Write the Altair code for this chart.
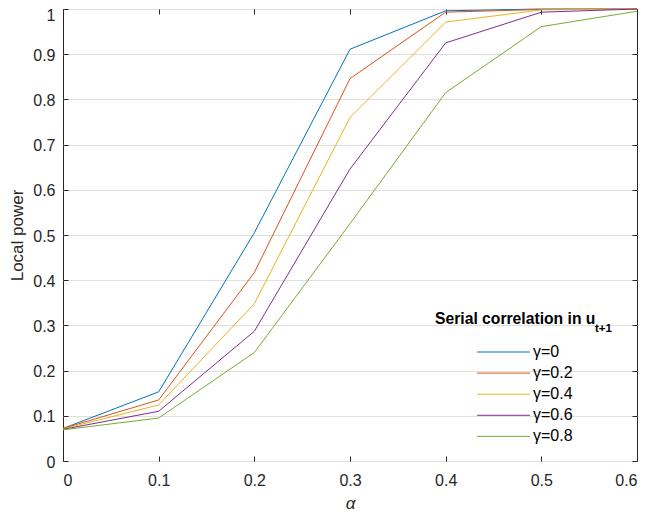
import altair as alt
import pandas as pd

FONT = "Liberation Sans"
TEXT = "#262626"

alpha = [0, 0.1, 0.2, 0.3, 0.4, 0.5, 0.6]
series = ["γ=0", "γ=0.2", "γ=0.4", "γ=0.6", "γ=0.8"]
power_g00 = [0.072, 0.153, 0.505, 0.911, 0.996, 1.000, 1.000]
power_g02 = [0.072, 0.135, 0.417, 0.846, 0.993, 0.999, 1.000]
power_g04 = [0.071, 0.124, 0.348, 0.760, 0.971, 0.998, 1.000]
power_g06 = [0.070, 0.110, 0.287, 0.646, 0.925, 0.993, 1.000]
power_g08 = [0.069, 0.095, 0.240, 0.525, 0.815, 0.961, 0.995]
colors = ["#0072BD", "#D95319", "#EDB120", "#7E2F8E", "#77AC30"]
x_ticks = [0, 0.1, 0.2, 0.3, 0.4, 0.5, 0.6]
y_ticks = [0, 0.1, 0.2, 0.3, 0.4, 0.5, 0.6, 0.7, 0.8, 0.9, 1.0]
legend_title = "Serial correlation in u"
legend_sub = "t+1"

all_series = [power_g00, power_g02, power_g04, power_g06, power_g08]
rows = []
for name, vals in zip(series, all_series):
    for a, p in zip(alpha, vals):
        rows.append({"alpha": a, "power": p, "series": name})
df = pd.DataFrame(rows)

xs = alt.Scale(domain=[0, 0.6], nice=False, zero=False)
ys = alt.Scale(domain=[0, 1], nice=False)

grid = alt.Chart(df).mark_line(opacity=0).encode(
    x=alt.X("alpha:Q", scale=xs, axis=None),
    y=alt.Y("power:Q", scale=ys, axis=alt.Axis(
        orient="left", values=y_ticks, grid=True, gridColor="#dfdfdf",
        gridWidth=1, ticks=False, labels=False, domain=False, title=None)),
    detail="series:N",
)

lines = alt.Chart(df).mark_line(strokeWidth=1).encode(
    x=alt.X("alpha:Q", scale=xs, axis=alt.Axis(
        orient="bottom", title="α", values=x_ticks, format="~g",
        offset=-5, tickSize=5, domain=False, grid=False,
        labelPadding=11, titlePadding=7, titleFontStyle="italic")),
    y=alt.Y("power:Q", scale=ys, axis=alt.Axis(
        orient="left", title="Local power", values=y_ticks, format="~g",
        offset=-5, tickSize=5, domain=False, grid=False,
        labelPadding=8, titlePadding=6,
        labelOffset={"condition": {"test": "datum.value >= 1", "value": 6.5}, "value": 1})),
    color=alt.Color("series:N", sort=series,
                    scale=alt.Scale(domain=series, range=colors),
                    legend=alt.Legend(
                        title=None, orient="none", legendX=432.5, legendY=335,
                        symbolType="M-5,0H5", symbolSize=112, symbolStrokeWidth=1,
                        labelOffset=21.5, rowPadding=5.1, padding=0,
                        labelFont=FONT, labelFontSize=16, labelColor="#000000")),
)

frame_ticks = alt.Chart(df).mark_line(opacity=0).encode(
    x=alt.X("alpha:Q", scale=xs, axis=alt.Axis(
        orient="top", values=x_ticks, labels=False, title=None,
        offset=-5, tickSize=5, domain=False, grid=False)),
    y=alt.Y("power:Q", scale=ys, axis=alt.Axis(
        orient="right", values=y_ticks, labels=False, title=None,
        offset=-5, tickSize=5, domain=False, grid=False)),
    detail="series:N",
)

title_main = alt.Chart(pd.DataFrame({"t": [legend_title]})).mark_text(
    align="left", baseline="alphabetic", font=FONT, fontSize=15.7,
    fontWeight="bold", color="#000000",
).encode(x=alt.value(372), y=alt.value(314.5), text="t:N")

title_sub = alt.Chart(pd.DataFrame({"t": [legend_sub]})).mark_text(
    align="left", baseline="alphabetic", font=FONT, fontSize=11.5,
    fontWeight="bold", color="#000000",
).encode(x=alt.value(532), y=alt.value(322.7), text="t:N")

chart = alt.layer(grid, lines, frame_ticks, title_main, title_sub).resolve_axis(
    x="independent", y="independent"
).properties(
    width=574, height=452,
    padding={"left": 55, "top": 1, "right": 4, "bottom": 52},
    autosize=alt.AutoSizeParams(type="none"),
).configure_view(
    stroke="#262626", strokeWidth=1
).configure_axis(
    labelFont=FONT, labelFontSize=16, labelColor=TEXT,
    titleFont=FONT, titleFontSize=17, titleFontWeight="normal", titleColor=TEXT,
    tickColor=TEXT, tickWidth=1,
)

chart.save("out.html", embed_options={"renderer": "svg", "actions": False})
